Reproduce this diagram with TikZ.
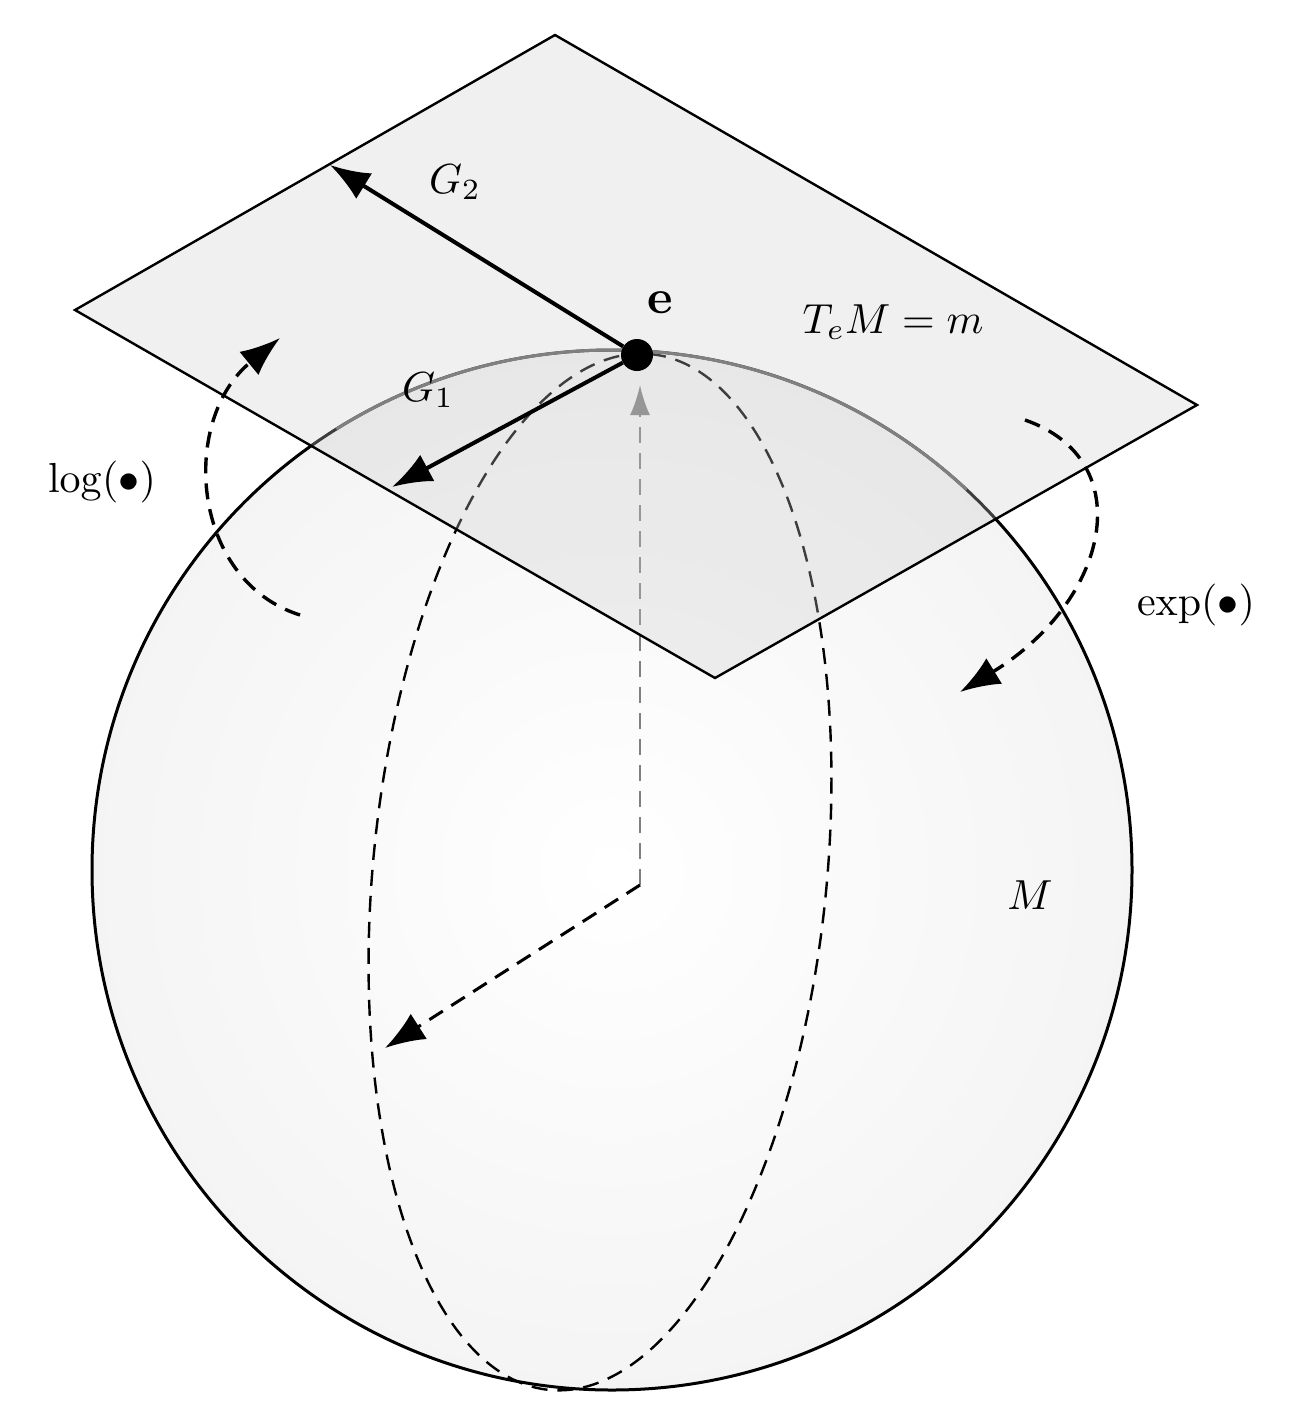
\documentclass[tikz,border=0pt]{standalone}
\usetikzlibrary{arrows.meta}
\begin{document}
\begin{tikzpicture}[x=1pt,y=-1pt,
  lbl/.style={scale=4.2,transform shape},
  dsh/.style={dash pattern=on 16pt off 10pt,line width=2.4pt},
  tip/.style={-{Latex[length=40pt,width=30pt]}}]
\useasboundingbox (0,0) rectangle (1306,1424);
\shade[inner color=white,outer color=blue!5!gray!8] (612,870) circle[radius=520];
\draw[line width=3pt] (612,870) circle[radius=520];
\draw[dsh] plot[domain=0:360,samples=120,variable=\t,smooth]
  ({600+50*cos(\t)+226*sin(\t)},{872-518*cos(\t)+20*sin(\t)});
\coordinate (o) at (640,885);
\coordinate (up) at (640,385);
\coordinate (dl) at (385,1048);
\draw[dsh,gray,-{Latex[length=30pt,width=20pt]}] (o) -- (up);
\draw[dsh,line width=3pt,tip] (o) -- (dl);
\fill[gray!40,opacity=0.3] (75,310) -- (555,35) -- (1197,405) -- (715,678) -- cycle;
\draw[line width=2.4pt] (75,310) -- (555,35) -- (1197,405) -- (715,678) -- cycle;
\draw[gray,line width=3pt] (612,870) ++(-122:520) arc[start angle=-122,end angle=-47,radius=520];
\node[circle,fill=black,inner sep=0pt,minimum size=32pt] (e) at (637,355) {};
\coordinate (g2) at (330,165);
\coordinate (g1) at (392,487);
\draw[line width=4pt,tip] (e) -- (g2);
\draw[line width=4pt,tip] (e) -- (g1);
\coordinate (l1) at (300,615);
\coordinate (l2) at (280,338);
\draw[dsh,line width=3.4pt,tip] (l1) .. controls (190,580) and (180,420) .. (l2);
\coordinate (x1) at (1025,420);
\coordinate (x2) at (960,692);
\draw[dsh,line width=3.4pt,tip] (x1) .. controls (1140,460) and (1110,600) .. (x2);
\node[lbl] (tg2) at (455,182) {$G_2$};
\node[lbl] (tg1) at (428,390) {$G_1$};
\node[lbl,scale=1.15,font=\bfseries] (te) at (660,303) {e};
\node[lbl] (tm) at (893,322) {$T_eM=m$};
\node[lbl] (tlog) at (102,482) {$\log(\bullet)$};
\node[lbl] (texp) at (1196,605) {$\exp(\bullet)$};
\node[lbl] (tM) at (1030,895) {$M$};
\end{tikzpicture}
\end{document}
